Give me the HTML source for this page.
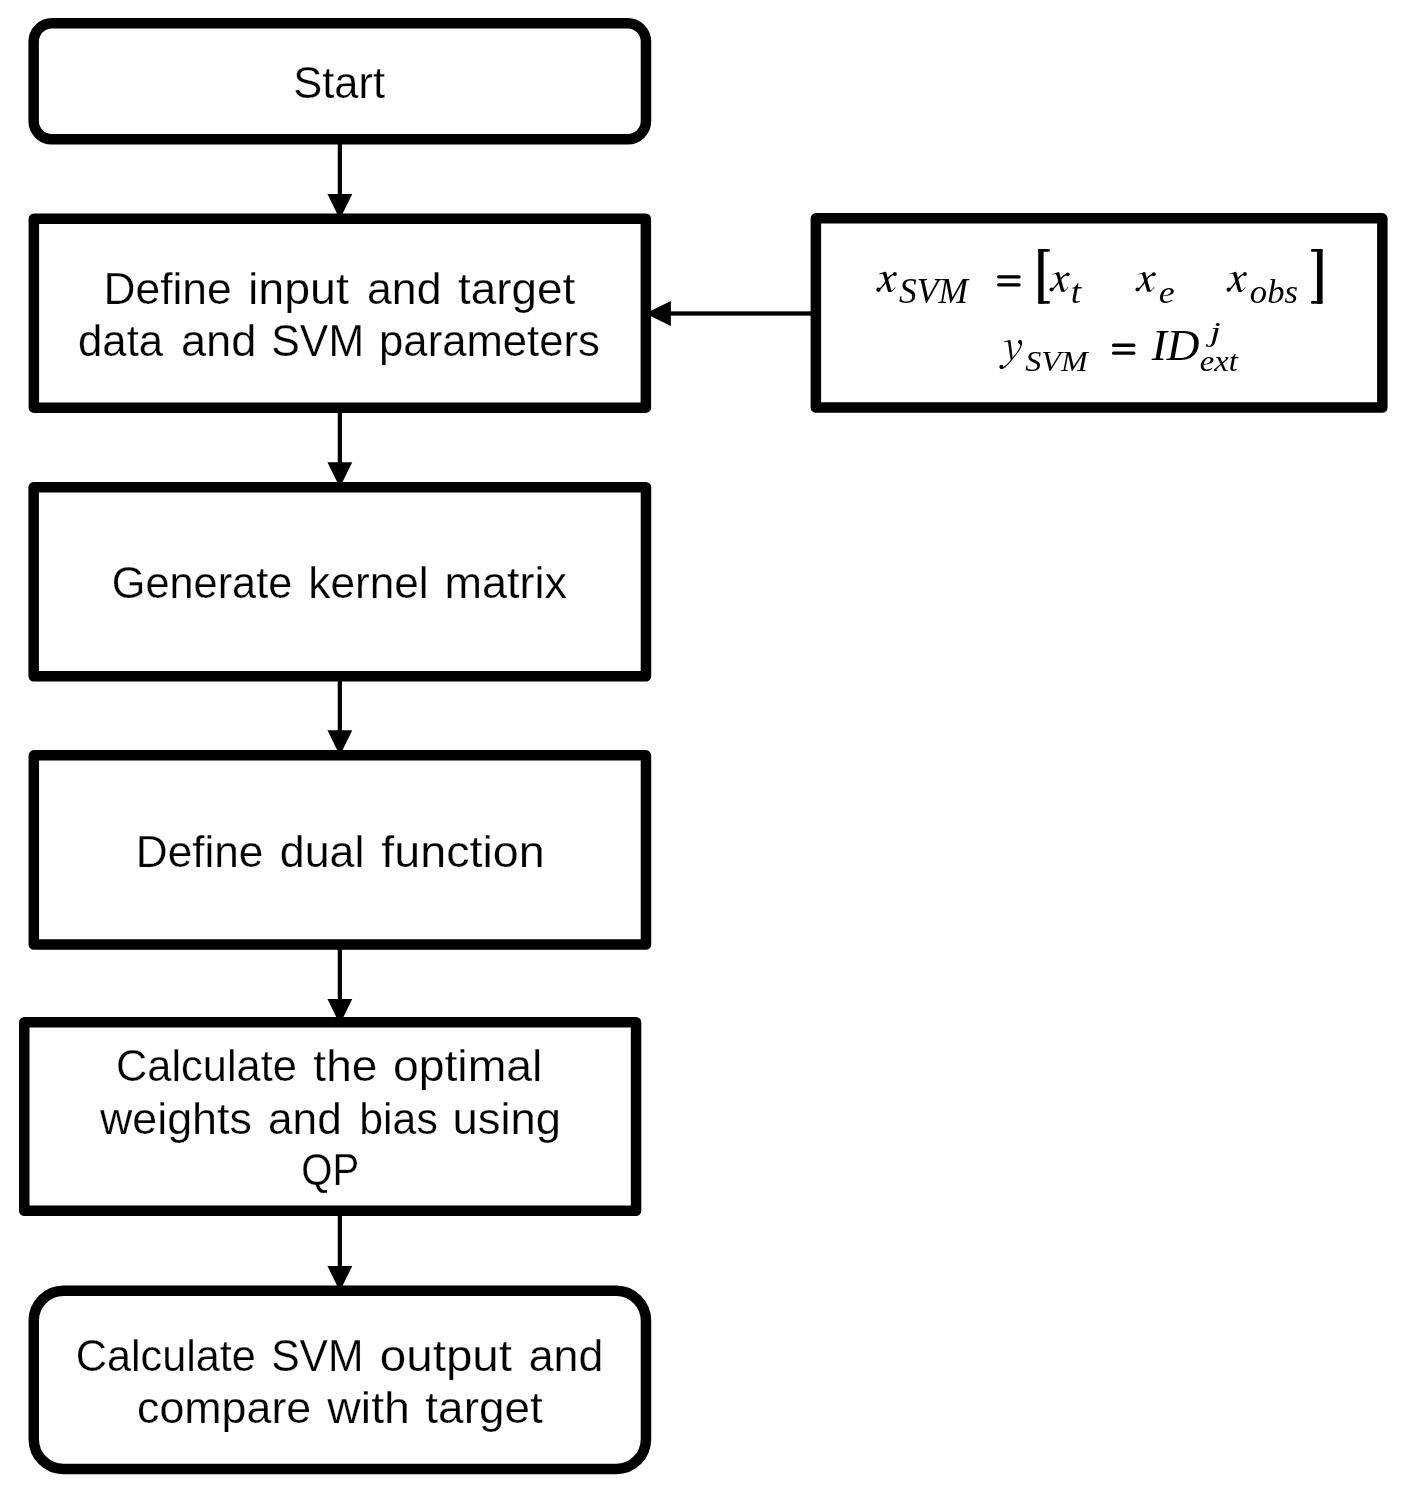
<!DOCTYPE html>
<html><head><meta charset="utf-8"><style>
html,body{margin:0;padding:0;background:#fff;width:1406px;height:1493px;overflow:hidden}
svg{display:block;filter:grayscale(1)}
text{fill:#000}
.s{font-family:"Liberation Sans",sans-serif;stroke:#fff;stroke-width:0.25px}
.m{font-family:"Liberation Serif",serif;font-style:italic}
.r{font-family:"Liberation Serif",serif;font-style:normal}
</style></head><body>
<svg width="1406" height="1493" viewBox="0 0 1406 1493">
<rect x="0" y="0" width="1406" height="1493" fill="#fff"/>
<rect x="33.65" y="23.25" width="612.30" height="116.10" rx="18.25" ry="18.25" fill="none" stroke="#000" stroke-width="10.5"/>
<rect x="33.85" y="218.65" width="612.00" height="189.00" fill="none" stroke="#000" stroke-width="10.5" stroke-linejoin="round"/>
<rect x="33.65" y="487.25" width="612.30" height="189.00" fill="none" stroke="#000" stroke-width="10.5" stroke-linejoin="round"/>
<rect x="33.80" y="755.35" width="612.15" height="189.20" fill="none" stroke="#000" stroke-width="10.5" stroke-linejoin="round"/>
<rect x="24.25" y="1022.25" width="611.80" height="188.60" fill="none" stroke="#000" stroke-width="10.5" stroke-linejoin="round"/>
<rect x="33.75" y="1290.75" width="612.20" height="178.30" rx="29.75" ry="29.75" fill="none" stroke="#000" stroke-width="10.5"/>
<rect x="815.85" y="218.35" width="566.50" height="189.20" fill="none" stroke="#000" stroke-width="10.5" stroke-linejoin="round"/>
<rect x="337.75" y="140.00" width="4.2" height="55.00" fill="#000"/><polygon points="327.45,194.00 352.25,194.00 339.85,219.20" fill="#000"/>
<rect x="337.75" y="408.00" width="4.2" height="55.30" fill="#000"/><polygon points="327.45,462.30 352.25,462.30 339.85,487.50" fill="#000"/>
<rect x="337.75" y="676.00" width="4.2" height="55.35" fill="#000"/><polygon points="327.45,730.35 352.25,730.35 339.85,755.55" fill="#000"/>
<rect x="337.75" y="944.00" width="4.2" height="56.10" fill="#000"/><polygon points="327.45,999.10 352.25,999.10 339.85,1024.30" fill="#000"/>
<rect x="337.75" y="1211.00" width="4.2" height="56.00" fill="#000"/><polygon points="327.45,1266.00 352.25,1266.00 339.85,1291.20" fill="#000"/>
<rect x="669.85" y="311.35" width="142.15" height="4.3" fill="#000"/><polygon points="670.85,301.00 670.85,326.00 645.35,313.50" fill="#000"/>
<text class="s" x="293.30" y="98.20" font-size="45.0" textLength="91.74" lengthAdjust="spacingAndGlyphs">Start</text>
<text class="s" x="103.46" y="304.00" font-size="45.0" textLength="128.19" lengthAdjust="spacingAndGlyphs">Define</text>
<text class="s" x="248.00" y="304.00" font-size="45.0" textLength="100.92" lengthAdjust="spacingAndGlyphs">input</text>
<text class="s" x="367.02" y="304.00" font-size="45.0" textLength="74.45" lengthAdjust="spacingAndGlyphs">and</text>
<text class="s" x="458.08" y="304.00" font-size="45.0" textLength="117.20" lengthAdjust="spacingAndGlyphs">target</text>
<text class="s" x="78.06" y="355.80" font-size="45.0" textLength="85.12" lengthAdjust="spacingAndGlyphs">data</text>
<text class="s" x="180.99" y="355.80" font-size="45.0" textLength="75.42" lengthAdjust="spacingAndGlyphs">and</text>
<text class="s" x="271.35" y="355.80" font-size="45.0" textLength="92.69" lengthAdjust="spacingAndGlyphs">SVM</text>
<text class="s" x="379.09" y="355.80" font-size="45.0" textLength="220.76" lengthAdjust="spacingAndGlyphs">parameters</text>
<text class="s" x="111.78" y="598.20" font-size="45.0" textLength="180.55" lengthAdjust="spacingAndGlyphs">Generate</text>
<text class="s" x="308.36" y="598.20" font-size="45.0" textLength="120.15" lengthAdjust="spacingAndGlyphs">kernel</text>
<text class="s" x="444.40" y="598.20" font-size="45.0" textLength="122.50" lengthAdjust="spacingAndGlyphs">matrix</text>
<text class="s" x="135.77" y="867.00" font-size="45.0" textLength="127.67" lengthAdjust="spacingAndGlyphs">Define</text>
<text class="s" x="279.81" y="867.00" font-size="45.0" textLength="84.55" lengthAdjust="spacingAndGlyphs">dual</text>
<text class="s" x="381.36" y="867.00" font-size="45.0" textLength="163.36" lengthAdjust="spacingAndGlyphs">function</text>
<text class="s" x="116.01" y="1081.10" font-size="45.0" textLength="180.91" lengthAdjust="spacingAndGlyphs">Calculate</text>
<text class="s" x="313.38" y="1081.10" font-size="45.0" textLength="64.05" lengthAdjust="spacingAndGlyphs">the</text>
<text class="s" x="392.94" y="1081.10" font-size="45.0" textLength="149.43" lengthAdjust="spacingAndGlyphs">optimal</text>
<text class="s" x="100.00" y="1134.00" font-size="45.0" textLength="151.87" lengthAdjust="spacingAndGlyphs">weights</text>
<text class="s" x="268.04" y="1134.00" font-size="45.0" textLength="73.70" lengthAdjust="spacingAndGlyphs">and</text>
<text class="s" x="359.35" y="1134.00" font-size="45.0" textLength="78.43" lengthAdjust="spacingAndGlyphs">bias</text>
<text class="s" x="452.57" y="1134.00" font-size="45.0" textLength="108.54" lengthAdjust="spacingAndGlyphs">using</text>
<text class="s" x="301.22" y="1185.20" font-size="45.0" textLength="58.00" lengthAdjust="spacingAndGlyphs">QP</text>
<text class="s" x="75.72" y="1370.50" font-size="45.0" textLength="180.19" lengthAdjust="spacingAndGlyphs">Calculate</text>
<text class="s" x="271.16" y="1370.50" font-size="45.0" textLength="92.37" lengthAdjust="spacingAndGlyphs">SVM</text>
<text class="s" x="379.79" y="1370.50" font-size="45.0" textLength="132.25" lengthAdjust="spacingAndGlyphs">output</text>
<text class="s" x="528.71" y="1370.50" font-size="45.0" textLength="74.56" lengthAdjust="spacingAndGlyphs">and</text>
<text class="s" x="137.11" y="1422.50" font-size="45.0" textLength="174.05" lengthAdjust="spacingAndGlyphs">compare</text>
<text class="s" x="327.27" y="1422.50" font-size="45.0" textLength="82.66" lengthAdjust="spacingAndGlyphs">with</text>
<text class="s" x="425.38" y="1422.50" font-size="45.0" textLength="117.30" lengthAdjust="spacingAndGlyphs">target</text>
<text class="m" x="899.12" y="303.00" font-size="36.12" textLength="68.92" lengthAdjust="spacingAndGlyphs">SVM</text>
<text class="m" x="1070.88" y="302.80" font-size="33.33" textLength="10.31" lengthAdjust="spacingAndGlyphs">t</text>
<text class="m" x="1158.84" y="302.90" font-size="31.04" textLength="15.96" lengthAdjust="spacingAndGlyphs">e</text>
<text class="m" x="1249.89" y="302.90" font-size="34.29" textLength="48.05" lengthAdjust="spacingAndGlyphs">obs</text>
<text class="m" x="1025.20" y="370.90" font-size="30.15" textLength="62.50" lengthAdjust="spacingAndGlyphs">SVM</text>
<text class="m" x="1151.80" y="359.80" font-size="44.46" textLength="47.72" lengthAdjust="spacingAndGlyphs">ID</text>
<text class="m" x="1209.91" y="341.40" font-size="28.37" textLength="10.81" lengthAdjust="spacingAndGlyphs">j</text>
<text class="m" x="1199.71" y="370.80" font-size="29.82" textLength="38.02" lengthAdjust="spacingAndGlyphs">ext</text>
<rect x="1038.20" y="248.90" width="5.4" height="54.90" rx="0.8" fill="#000"/><rect x="1038.20" y="248.90" width="11.7" height="2.9" rx="1.4" fill="#000"/><rect x="1038.20" y="300.90" width="11.7" height="2.9" rx="1.4" fill="#000"/>
<rect x="1317.00" y="248.90" width="5.6" height="54.90" rx="0.8" fill="#000"/><rect x="1310.90" y="248.90" width="11.7" height="2.9" rx="1.4" fill="#000"/><rect x="1310.90" y="300.90" width="11.7" height="2.9" rx="1.4" fill="#000"/>
<rect x="997.1" y="275.3" width="23.50" height="3.20" rx="1.5" fill="#000"/><rect x="997.1" y="283.3" width="23.50" height="3.20" rx="1.5" fill="#000"/>
<rect x="1112" y="343.4" width="23.40" height="3.50" rx="1.5" fill="#000"/><rect x="1112" y="351.4" width="23.40" height="3.40" rx="1.5" fill="#000"/>
<g transform="translate(876.10,271.70) scale(1.015,1.025)"><path d="M6.6,0.9 C7.6,0.3 8.6,0 9.8,0 L14.6,17.2 C14.9,18.2 15.2,18.6 15.7,18.6 L15.5,19.4 C14.6,19.8 13.8,19.9 13.0,19.9 C12.2,19.9 11.7,19.3 11.4,18.3 L7.5,4.0 C7.1,2.6 6.5,2.0 5.3,2.0 C4.6,2.0 3.8,2.2 3.1,2.6 L2.9,2.0 C4.2,1.4 5.4,1.1 6.6,0.9 Z" fill="#000"/><path d="M14.8,19.2 C16.3,18.6 17.6,17.2 18.7,15.3" fill="none" stroke="#000" stroke-width="0.9"/><path d="M2.8,17.6 C5.5,16.2 8.5,11.5 10.4,8.6 C12.6,5.2 15,2.6 18.3,2.2" fill="none" stroke="#000" stroke-width="1.4"/><circle cx="2.3" cy="17.6" r="2.1" fill="#000"/><circle cx="18.5" cy="2.2" r="1.9" fill="#000"/></g>
<g transform="translate(1049.30,272.10) scale(0.998,0.990)"><path d="M6.6,0.9 C7.6,0.3 8.6,0 9.8,0 L14.6,17.2 C14.9,18.2 15.2,18.6 15.7,18.6 L15.5,19.4 C14.6,19.8 13.8,19.9 13.0,19.9 C12.2,19.9 11.7,19.3 11.4,18.3 L7.5,4.0 C7.1,2.6 6.5,2.0 5.3,2.0 C4.6,2.0 3.8,2.2 3.1,2.6 L2.9,2.0 C4.2,1.4 5.4,1.1 6.6,0.9 Z" fill="#000"/><path d="M14.8,19.2 C16.3,18.6 17.6,17.2 18.7,15.3" fill="none" stroke="#000" stroke-width="0.9"/><path d="M2.8,17.6 C5.5,16.2 8.5,11.5 10.4,8.6 C12.6,5.2 15,2.6 18.3,2.2" fill="none" stroke="#000" stroke-width="1.4"/><circle cx="2.3" cy="17.6" r="2.1" fill="#000"/><circle cx="18.5" cy="2.2" r="1.9" fill="#000"/></g>
<g transform="translate(1135.30,272.00) scale(1.000,0.995)"><path d="M6.6,0.9 C7.6,0.3 8.6,0 9.8,0 L14.6,17.2 C14.9,18.2 15.2,18.6 15.7,18.6 L15.5,19.4 C14.6,19.8 13.8,19.9 13.0,19.9 C12.2,19.9 11.7,19.3 11.4,18.3 L7.5,4.0 C7.1,2.6 6.5,2.0 5.3,2.0 C4.6,2.0 3.8,2.2 3.1,2.6 L2.9,2.0 C4.2,1.4 5.4,1.1 6.6,0.9 Z" fill="#000"/><path d="M14.8,19.2 C16.3,18.6 17.6,17.2 18.7,15.3" fill="none" stroke="#000" stroke-width="0.9"/><path d="M2.8,17.6 C5.5,16.2 8.5,11.5 10.4,8.6 C12.6,5.2 15,2.6 18.3,2.2" fill="none" stroke="#000" stroke-width="1.4"/><circle cx="2.3" cy="17.6" r="2.1" fill="#000"/><circle cx="18.5" cy="2.2" r="1.9" fill="#000"/></g>
<g transform="translate(1226.30,271.80) scale(1.005,1.015)"><path d="M6.6,0.9 C7.6,0.3 8.6,0 9.8,0 L14.6,17.2 C14.9,18.2 15.2,18.6 15.7,18.6 L15.5,19.4 C14.6,19.8 13.8,19.9 13.0,19.9 C12.2,19.9 11.7,19.3 11.4,18.3 L7.5,4.0 C7.1,2.6 6.5,2.0 5.3,2.0 C4.6,2.0 3.8,2.2 3.1,2.6 L2.9,2.0 C4.2,1.4 5.4,1.1 6.6,0.9 Z" fill="#000"/><path d="M14.8,19.2 C16.3,18.6 17.6,17.2 18.7,15.3" fill="none" stroke="#000" stroke-width="0.9"/><path d="M2.8,17.6 C5.5,16.2 8.5,11.5 10.4,8.6 C12.6,5.2 15,2.6 18.3,2.2" fill="none" stroke="#000" stroke-width="1.4"/><circle cx="2.3" cy="17.6" r="2.1" fill="#000"/><circle cx="18.5" cy="2.2" r="1.9" fill="#000"/></g>
<g id="yg" transform="translate(999.4,339.8)"><path d="M8.5,0.7 C9.3,0.4 10.1,0.2 10.9,0.1 C11.6,4 12.5,11 13.3,18.3 L11.4,20.6 C10.1,14 9.3,7.5 8.9,3.8 C8.9,2.3 8.1,1.9 7.0,1.9 C6.2,1.9 5.3,2.1 4.5,2.4 L4.3,1.9 C5.6,1.3 7.0,0.9 8.5,0.7 Z" fill="#000"/><path d="M22.0,3.2 C22.0,6.5 20.2,9.8 17.5,13.2 C14.5,17 11.5,21.2 8.2,24.6 C6.6,26.2 4.6,27.6 2.6,28.2" fill="none" stroke="#000" stroke-width="1.1"/><path d="M18.6,2.4 C18.6,0.9 19.5,0.0 20.6,0.0 C21.9,0.0 22.6,1.2 22.6,2.8 C22.6,4.3 22.2,5.6 21.4,7.0 L20.9,6.7 C21.2,5.8 21.0,4.6 19.9,4.0 C19.1,3.6 18.6,3.1 18.6,2.4 Z" fill="#000"/><path d="M0.0,27.2 C0.0,25.9 0.9,25.0 2.1,25.0 C3.2,25.0 3.9,25.8 3.9,26.6 C3.9,27.2 3.6,27.6 3.4,27.9 C4.4,28.0 5.5,27.5 6.5,26.9 L6.8,27.3 C5.2,28.6 3.5,29.3 2.3,29.3 C0.9,29.3 0.0,28.4 0.0,27.2 Z" fill="#000"/></g>
</svg>
</body></html>
